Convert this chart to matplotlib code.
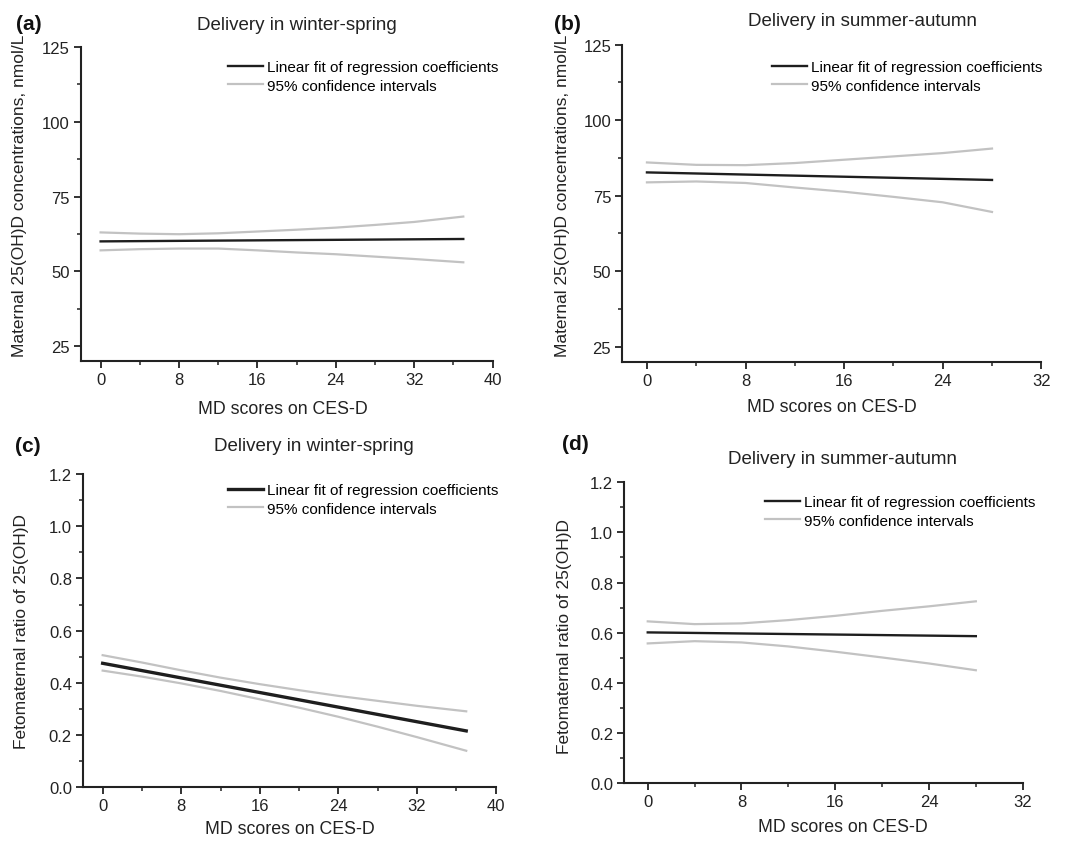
import matplotlib
matplotlib.use("Agg")
import matplotlib.pyplot as plt
from matplotlib.ticker import MultipleLocator, FormatStrFormatter

plt.rcParams['font.family'] = ['Liberation Sans', 'DejaVu Sans']

# ---- data ----
# (a) maternal 25(OH)D, winter-spring
x_a = [0, 4, 8, 12, 16, 20, 24, 28, 32, 37]
fit_x_a = [0, 37]
fit_a = [60.0, 60.8]
upper_a = [63.0, 62.6, 62.4, 62.7, 63.3, 63.9, 64.6, 65.5, 66.5, 68.3]
lower_a = [57.0, 57.4, 57.6, 57.6, 57.0, 56.3, 55.7, 54.9, 54.1, 53.0]

# (b) maternal 25(OH)D, summer-autumn
x_b = [0, 4, 8, 12, 16, 20, 24, 28]
fit_x_b = [0, 28]
fit_b = [82.7, 80.2]
upper_b = [86.0, 85.2, 85.1, 85.8, 86.9, 88.0, 89.1, 90.6]
lower_b = [79.4, 79.7, 79.2, 77.7, 76.3, 74.6, 72.8, 69.6]

# (c) fetomaternal ratio, winter-spring
x_c = [0, 4, 8, 12, 16, 20, 24, 28, 32, 37]
fit_x_c = [0, 37]
fit_c = [0.475, 0.216]
upper_c = [0.506, 0.478, 0.448, 0.420, 0.395, 0.372, 0.350, 0.331, 0.312, 0.291]
lower_c = [0.447, 0.424, 0.398, 0.369, 0.337, 0.305, 0.270, 0.232, 0.192, 0.140]

# (d) fetomaternal ratio, summer-autumn
x_d = [0, 4, 8, 12, 16, 20, 24, 28]
fit_x_d = [0, 28]
fit_d = [0.601, 0.586]
upper_d = [0.645, 0.634, 0.637, 0.650, 0.667, 0.687, 0.705, 0.725]
lower_d = [0.557, 0.566, 0.561, 0.545, 0.524, 0.501, 0.477, 0.450]

fit_label = "Linear fit of regression coefficients"
ci_label = "95% confidence intervals"
xlabel = "MD scores on CES-D"
ylabel_top = "Maternal 25(OH)D concentrations, nmol/L"
ylabel_bottom = "Fetomaternal ratio of 25(OH)D"
title_ws = "Delivery in winter-spring"
title_sa = "Delivery in summer-autumn"

W, H = 1065, 845
fig = plt.figure(figsize=(W / 100, H / 100), dpi=100)


def px(x, y):
    return x / W, 1 - y / H


def make_axes(left, top, right, bottom):
    l, t = px(left, top)
    r, b = px(right, bottom)
    return fig.add_axes([l, b, r - l, t - b])


def style(ax, xmax, ylim, ymaj, ymin, fmt=None):
    for s in ['top', 'right']:
        ax.spines[s].set_visible(False)
    for s in ['left', 'bottom']:
        ax.spines[s].set_linewidth(1.5)
        ax.spines[s].set_color('#222222')
    ax.set_xlim(-2, xmax)
    ax.set_ylim(*ylim)
    ax.xaxis.set_major_locator(MultipleLocator(8))
    ax.xaxis.set_minor_locator(MultipleLocator(4))
    ax.yaxis.set_major_locator(MultipleLocator(ymaj))
    ax.yaxis.set_minor_locator(MultipleLocator(ymin))
    if fmt:
        ax.yaxis.set_major_formatter(FormatStrFormatter(fmt))
    ax.tick_params(which='major', direction='out', length=5, width=1.3,
                   labelsize=12, colors='#222222', pad=3)
    ax.tick_params(which='minor', direction='out', length=3, width=1.1,
                   colors='#222222')


def draw(ax, x, upper, lower, fx, fy, fit_lw):
    ax.plot(fx, fy, color='#1e1e1e', lw=fit_lw, label=fit_label, zorder=3)
    ax.plot(x, upper, color='#c2c2c2', lw=1.6, label=ci_label)
    ax.plot(x, lower, color='#c2c2c2', lw=1.6)


def legend(ax, hx, ty):
    ax.legend(loc='upper left', bbox_to_anchor=px(hx, ty),
              bbox_transform=fig.transFigure, frameon=False,
              borderpad=0, borderaxespad=0, handlelength=2.3,
              handletextpad=0.25, labelspacing=0.3, fontsize=11)


panels = [
    dict(box=(81, 48, 492.7, 362), x=x_a, up=upper_a, lo=lower_a, fx=fit_x_a, fy=fit_a,
         xmax=40, ylim=(20, 125), ymaj=25, ymin=12.5, fmt=None, lw=1.7,
         leg=(228, 61), title=title_ws, tpos=(297, 26), tag='(a)', tagpos=(29, 25),
         ylab=ylabel_top, ylpos=(20, 196), xlpos=(283, 410)),
    dict(box=(622.3, 45.7, 1041.3, 362.7), x=x_b, up=upper_b, lo=lower_b, fx=fit_x_b, fy=fit_b,
         xmax=32, ylim=(20, 125), ymaj=25, ymin=12.5, fmt=None, lw=1.7,
         leg=(772, 61), title=title_sa, tpos=(862, 21), tag='(b)', tagpos=(567, 25),
         ylab=ylabel_top, ylpos=(563, 196), xlpos=(832, 408)),
    dict(box=(83, 475, 495.7, 788.3), x=x_c, up=upper_c, lo=lower_c, fx=fit_x_c, fy=fit_c,
         xmax=40, ylim=(0, 1.2), ymaj=0.2, ymin=0.1, fmt='%.1f', lw=2.4,
         leg=(228, 484), title=title_ws, tpos=(314, 447), tag='(c)', tagpos=(28, 447),
         ylab=ylabel_bottom, ylpos=(22, 632), xlpos=(290, 830)),
    dict(box=(624.3, 483.3, 1022.7, 784), x=x_d, up=upper_d, lo=lower_d, fx=fit_x_d, fy=fit_d,
         xmax=32, ylim=(0, 1.2), ymaj=0.2, ymin=0.1, fmt='%.1f', lw=1.7,
         leg=(765, 496), title=title_sa, tpos=(843, 460), tag='(d)', tagpos=(575, 445),
         ylab=ylabel_bottom, ylpos=(565, 636), xlpos=(843, 828)),
]

for p in panels:
    ax = make_axes(*p['box'])
    draw(ax, p['x'], p['up'], p['lo'], p['fx'], p['fy'], p['lw'])
    style(ax, p['xmax'], p['ylim'], p['ymaj'], p['ymin'], p['fmt'])
    legend(ax, *p['leg'])
    fig.text(*px(*p['tpos']), p['title'], ha='center', va='center',
             fontsize=13.5, color='#222222')
    fig.text(*px(*p['tagpos']), p['tag'], ha='center', va='center',
             fontsize=15, fontweight='bold', color='#111111')
    fig.text(*px(*p['ylpos']), p['ylab'], ha='center', va='center',
             rotation=90, fontsize=12.5, color='#222222')
    fig.text(*px(*p['xlpos']), xlabel, ha='center', va='center',
             fontsize=12.8, color='#222222')

fig.savefig("out.png", dpi=100, facecolor='white')
